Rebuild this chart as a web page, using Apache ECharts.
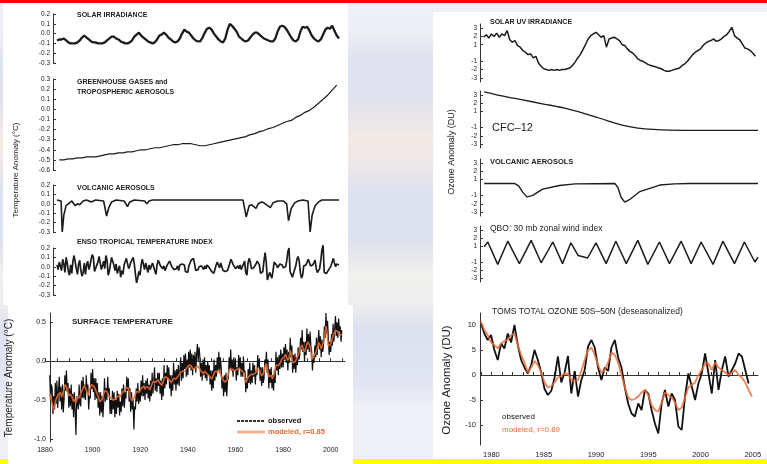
<!DOCTYPE html>
<html><head><meta charset="utf-8">
<script src="https://cdn.jsdelivr.net/npm/echarts@6/dist/echarts.min.js"></script>
<style>html,body{margin:0;padding:0;background:#e2e5f1}#c{width:767px;height:464px}</style>
</head><body><div id="c"></div>
<script>
// ---------- Surface temperature drivers (left column), years 1881-2005 ----------
const solarStart = 1881; // annual
const solarIrr = [-0.07,-0.06,-0.06,-0.05,-0.07,-0.09,-0.10,-0.10,-0.10,-0.09,
  -0.07,-0.04,-0.02,-0.04,-0.06,-0.08,-0.09,-0.09,-0.10,-0.10,
  -0.10,-0.09,-0.07,-0.05,-0.03,-0.03,-0.05,-0.06,-0.08,-0.09,
  -0.10,-0.10,-0.09,-0.07,-0.03,-0.01,0.01,-0.02,-0.04,-0.06,
  -0.08,-0.09,-0.10,-0.09,-0.06,-0.02,-0.01,0.01,-0.01,-0.04,
  -0.06,-0.08,-0.09,-0.08,-0.05,0.00,0.04,0.02,0.01,-0.02,
  -0.05,-0.07,-0.08,-0.08,-0.04,0.01,0.05,0.06,0.04,0.00,
  -0.03,-0.06,-0.08,-0.09,-0.05,0.04,0.10,0.08,0.05,0.02,
  -0.03,-0.05,-0.07,-0.08,-0.07,-0.04,-0.01,0.01,0.01,-0.01,
  -0.03,-0.05,-0.06,-0.07,-0.08,-0.08,-0.05,0.02,0.07,0.08,
  0.07,0.04,0.00,-0.04,-0.07,-0.08,-0.06,0.02,0.07,0.06,
  0.07,0.03,-0.02,-0.05,-0.07,-0.08,-0.06,-0.01,0.04,0.06,
  0.05,0.08,0.03,-0.02,-0.05];

const ghgStart = 1882; // every 2 years
const ghgAer = [-0.50,-0.50,-0.49,-0.49,-0.48,-0.48,-0.47,-0.47,-0.47,-0.46,
  -0.45,-0.44,-0.44,-0.43,-0.43,-0.42,-0.42,-0.41,-0.40,-0.40,
  -0.39,-0.38,-0.38,-0.37,-0.36,-0.35,-0.35,-0.34,-0.34,-0.34,
  -0.35,-0.36,-0.36,-0.35,-0.34,-0.33,-0.32,-0.31,-0.30,-0.29,
  -0.28,-0.27,-0.25,-0.24,-0.22,-0.21,-0.19,-0.18,-0.16,-0.14,
  -0.12,-0.11,-0.08,-0.06,-0.03,-0.01,0.02,0.06,0.10,0.14,0.19,0.24];

const volcYears = [1881,1882.8,1883.3,1884.0,1885,1886.5,1887.5,1889,1890,1891,1892.5,1894,1896,1897,1898,
  1901.5,1902.8,1903.8,1905,1907,1910.5,1912,1913,1915,1919.5,1920.5,1921.5,1923,
  1962.8,1964.2,1965.5,1966.5,1968.5,1969.5,1971,1972,1974.8,1976,1978,1980.5,1982,1982.8,1984,
  1985.5,1987,1989,1991.4,1992.3,1993.2,1994.5,1996,1997.5,2005];
const volcTemp = [0.04,0.03,-0.30,-0.12,-0.02,0.01,0.03,-0.02,0.00,-0.01,0.03,0.04,0.02,0.03,0.04,
  0.03,-0.13,-0.04,0.02,0.04,0.03,-0.03,0.02,0.04,0.03,0.00,0.03,0.04,
  0.04,-0.14,-0.02,-0.01,-0.05,0.00,0.02,0.01,-0.04,0.01,0.03,0.03,0.00,-0.18,-0.05,
  0.01,0.03,0.04,0.03,-0.30,-0.12,-0.02,0.02,0.04,0.04];

const ensoStart = 1881; // half-yearly
const ensoIndex = [0.02,-0.03, 0.05,0.01, -0.04,0.08, 0.03,-0.06, 0.10,0.04,
  -0.05,-0.09, 0.02,-0.07, 0.06,0.12, 0.14,-0.02, -0.08,0.03,
  0.07,-0.04, -0.10,-0.06, 0.04,-0.08, 0.02,0.06, -0.03,0.01,
  0.08,0.13, 0.10,-0.05, -0.07,0.02, 0.05,0.11, 0.09,-0.03,
  0.01,0.06, -0.02,0.12, 0.07,-0.09, -0.05,0.03, 0.10,0.08,
  0.02,-0.04, 0.03,-0.07, -0.06,0.01, -0.11,-0.04, -0.08,0.02,
  0.04,0.09, 0.11,-0.02, 0.01,0.05, 0.06,0.10, 0.03,-0.08,
  -0.17,-0.12, -0.05,-0.09, 0.02,0.08, 0.07,-0.03, 0.04,-0.01,
  -0.06,0.02, -0.03,0.01, 0.04,0.06, -0.04,-0.08, 0.02,0.07,
  0.09,0.01, 0.03,-0.02, 0.01,-0.04, -0.02,0.02, 0.03,0.06,
  0.08,0.00, 0.02,-0.03, -0.05,-0.02, 0.01,-0.04, 0.02,0.00,
  0.03,0.01, 0.02,-0.05, -0.03,-0.06, 0.01,0.04, 0.07,0.05,
  0.09,0.03, -0.04,-0.06, -0.03,0.00, -0.02,0.01, -0.01,-0.03,
  0.01,-0.02, 0.02,0.00, -0.01,-0.03, -0.05,-0.04, -0.07,-0.02,
  0.02,0.05, 0.03,-0.01, 0.04,0.02, -0.04,-0.06, -0.05,-0.07,
  -0.04,-0.02, 0.04,0.08, 0.09,0.02, 0.01,-0.02, -0.01,0.01,
  -0.02,0.02, -0.03,-0.01, 0.03,0.06, -0.06,-0.09, 0.04,0.09,
  0.05,-0.02, -0.03,-0.01, 0.00,0.03, 0.06,0.04, 0.02,-0.07,
  -0.09,-0.05, 0.06,0.15, 0.05,-0.14, -0.10,-0.06, -0.08,-0.12,
  -0.04,0.05, 0.06,0.02, -0.01,-0.03, 0.03,0.05, 0.02,-0.01,
  -0.03,0.00, 0.06,0.16, 0.20,-0.05, -0.06,-0.11, -0.07,-0.03,
  0.01,0.08, 0.11,0.06, -0.06,-0.12, -0.09,0.01, 0.03,0.02,
  0.04,0.08, 0.10,0.01, 0.03,0.02, 0.04,0.07, -0.02,-0.06,
  -0.05,-0.02, 0.07,0.18, 0.23,-0.06, -0.08,-0.07, -0.05,-0.03,
  -0.02,0.01, 0.05,0.09, 0.04,0.00, 0.03,0.05, 0.02];

// ---------- Surface temperature, observed (every 4 months) and modeled (half-yearly) ----------
const sfcStart = 1882;
const sfcObserved = [
  -0.18,-0.52,-0.30, -0.35,-0.68,-0.45, -0.62,-0.28,-0.55, -0.25,-0.60,-0.38, -0.20,-0.52,-0.33,
  -0.62,-0.30,-0.66, -0.50,-0.18,-0.38, -0.12,-0.40,-0.28, -0.60,-0.35,-0.58, -0.30,-0.62,-0.42,
  -0.72,-0.40,-0.65, -0.95,-0.45,-0.55, -0.62,-0.30,-0.55, -0.58,-0.25,-0.47, -0.20,-0.48,-0.30,
  -0.50,-0.18,-0.40, -0.30,-0.62,-0.45, -0.48,-0.15,-0.36, -0.10,-0.40,-0.22, -0.50,-0.22,-0.48,
  -0.28,-0.60,-0.40, -0.70,-0.40,-0.66, -0.45,-0.72,-0.52, -0.22,-0.52,-0.35, -0.50,-0.20,-0.42,
  -0.35,-0.68,-0.50, -0.68,-0.38,-0.62, -0.40,-0.72,-0.50, -0.68,-0.38,-0.60, -0.42,-0.70,-0.52,
  -0.65,-0.35,-0.58, -0.30,-0.60,-0.40, -0.48,-0.20,-0.38, -0.22,-0.52,-0.35, -0.65,-0.40,-0.62,
  -0.50,-0.88,-0.58, -0.62,-0.35,-0.52, -0.28,-0.55,-0.38, -0.52,-0.25,-0.45, -0.18,-0.45,-0.28,
  -0.50,-0.25,-0.42, -0.22,-0.48,-0.30, -0.52,-0.25,-0.45, -0.15,-0.42,-0.25, -0.08,-0.38,-0.22,
  -0.40,-0.15,-0.32, -0.15,-0.42,-0.25, -0.50,-0.22,-0.45, -0.05,-0.35,-0.15, -0.30,-0.05,-0.22,
  -0.08,-0.35,-0.18, -0.45,-0.18,-0.38, -0.02,-0.30,-0.12, -0.38,-0.10,-0.30, -0.05,-0.32,-0.12,
  0.05,-0.25,-0.02, -0.22,0.08,-0.10, 0.10,-0.20,0.02, -0.18,0.12,-0.08, 0.15,-0.12,0.10,
  -0.18,0.08,-0.10, 0.12,-0.15,0.08, 0.22,0.00,0.18, 0.08,-0.20,-0.02, -0.25,0.02,-0.18,
  0.05,-0.22,-0.05, -0.25,0.00,-0.18, -0.05,-0.30,-0.12, -0.38,-0.12,-0.35, 0.02,-0.25,-0.05,
  -0.20,0.05,-0.12, 0.12,-0.15,0.05, -0.08,-0.35,-0.20, -0.45,-0.18,-0.40, -0.15,-0.45,-0.25,
  -0.22,0.05,-0.10, 0.15,-0.12,0.02, -0.20,0.05,-0.12, 0.02,-0.25,-0.08, -0.18,0.08,-0.10,
  0.05,-0.20,-0.02, -0.20,0.06,-0.15, -0.12,-0.40,-0.22, -0.35,-0.10,-0.28, -0.02,-0.30,-0.12,
  -0.28,-0.02,-0.20, -0.05,-0.30,-0.12, -0.18,0.08,-0.08, 0.02,-0.25,-0.08, -0.32,-0.08,-0.28,
  -0.22,0.02,-0.05, 0.12,-0.15,0.02, -0.35,-0.10,-0.28, -0.08,-0.35,-0.18, -0.38,-0.12,-0.28,
  0.12,-0.12,0.05, -0.18,0.08,-0.10, 0.15,-0.08,0.10, -0.08,0.18,0.02, 0.22,-0.02,0.15,
  -0.12,0.12,-0.02, 0.30,0.05,0.20, -0.15,0.08,-0.10, 0.10,-0.15,0.05, -0.05,0.18,0.02,
  0.08,0.30,0.15, 0.40,0.12,0.25, 0.00,0.25,0.08, 0.42,0.15,0.35, 0.12,0.38,0.20,
  0.12,-0.12,0.05, -0.02,0.20,0.05, 0.30,0.08,0.25, 0.40,0.15,0.32, 0.05,0.28,0.12,
  0.22,0.45,0.30, 0.62,0.35,0.52, 0.32,0.08,0.25, 0.12,0.35,0.20, 0.48,0.25,0.42,
  0.58,0.32,0.50, 0.30,0.55,0.38, 0.45,0.25,0.40];
const sfcModeled = [
  -0.42,-0.48, -0.55,-0.62, -0.58,-0.50, -0.47,-0.43, -0.45,-0.40, -0.46,-0.41, -0.36,-0.30,
  -0.33,-0.38, -0.45,-0.42, -0.44,-0.47, -0.52,-0.49, -0.53,-0.46, -0.44,-0.47, -0.42,-0.38,
  -0.35,-0.31, -0.33,-0.38, -0.43,-0.40, -0.34,-0.30, -0.29,-0.32, -0.35,-0.39, -0.41,-0.47,
  -0.52,-0.50, -0.49,-0.44, -0.38,-0.36, -0.39,-0.41, -0.46,-0.48, -0.47,-0.50, -0.51,-0.49,
  -0.47,-0.45, -0.43,-0.46, -0.44,-0.40, -0.41,-0.38, -0.34,-0.32, -0.35,-0.41, -0.48,-0.51,
  -0.52,-0.47, -0.42,-0.39, -0.37,-0.40, -0.38,-0.35, -0.34,-0.32, -0.36,-0.33, -0.31,-0.34,
  -0.37,-0.33, -0.29,-0.26, -0.24,-0.27, -0.26,-0.24, -0.27,-0.29, -0.31,-0.28, -0.23,-0.20,
  -0.19,-0.22, -0.23,-0.25, -0.28,-0.25, -0.22,-0.20, -0.23,-0.21, -0.19,-0.17, -0.14,-0.12,
  -0.13,-0.11, -0.12,-0.09, -0.07,-0.05, -0.04,-0.06, -0.10,-0.12, -0.09,-0.07, -0.06,-0.08,
  -0.10,-0.13, -0.14,-0.16, -0.13,-0.15, -0.16,-0.17, -0.19,-0.21, -0.23,-0.21, -0.16,-0.13,
  -0.12,-0.14, -0.11,-0.13, -0.19,-0.23, -0.25,-0.27, -0.26,-0.24, -0.16,-0.10, -0.08,-0.10,
  -0.11,-0.12, -0.12,-0.11, -0.10,-0.09, -0.10,-0.12, -0.12,-0.15, -0.24,-0.27, -0.23,-0.20,
  -0.18,-0.17, -0.16,-0.17, -0.18,-0.15, -0.10,-0.09, -0.11,-0.15, -0.19,-0.18, -0.14,-0.06,
  -0.03,-0.12, -0.20,-0.19, -0.18,-0.23, -0.22,-0.15, -0.05,-0.03, -0.06,-0.05, -0.01,0.03,
  0.04,0.05, 0.09,0.07, 0.01,0.04, 0.14,0.08, -0.02,-0.03, -0.01,0.01, 0.05,0.07,
  0.14,0.18, 0.21,0.15, 0.12,0.13, 0.22,0.25, 0.24,0.17, 0.02,0.00, 0.07,0.06,
  0.13,0.19, 0.24,0.21, 0.16,0.17, 0.25,0.33, 0.45,0.36, 0.19,0.21, 0.22,0.24,
  0.33,0.34, 0.40,0.39, 0.38,0.40, 0.33,0.35];
const sfcYTicks = [-1.0, -0.5, 0.0, 0.5];
const sfcXLabels = [1880, 1900, 1920, 1940, 1960, 1980, 2000];
const sfcXTicks = [1880,1885,1890,1895,1900,1905,1910,1915,1920,1925,1930,1935,1940,1945,1950,1955,1960,1965,1970,1975,1980,1985,1990,1995,2000,2005];
const driverTicks = [-0.3, -0.2, -0.1, 0.0, 0.1, 0.2];
const ghgTicks = [-0.6, -0.5, -0.4, -0.3, -0.2, -0.1, 0.0, 0.1, 0.2, 0.3];

// ---------- Ozone drivers (right column), 1979-2005 ----------
const uvStart = 1979.25; // quarterly
const uvIrr = [1.9,2.2,1.8,2.3,2.0,2.4,1.9,2.3,2.1,2.7,1.6,1.3,1.5,0.9,0.7,0.3,0.1,-0.2,-0.1,-0.6,
  -0.4,-1.2,-1.6,-1.9,-2.0,-2.1,-2.0,-2.1,-2.0,-2.1,-2.0,-2.0,-1.9,-1.8,-1.5,-1.1,-0.6,-0.2,0.4,1.0,
  1.7,2.1,2.3,2.5,2.2,1.9,2.1,0.7,1.7,1.8,1.9,1.7,1.5,1.0,0.9,0.5,0.2,0.0,-0.3,-0.7,
  -0.9,-1.0,-1.2,-1.4,-1.5,-1.6,-1.7,-1.8,-1.9,-2.1,-2.2,-2.2,-2.1,-2.0,-1.9,-1.8,-1.5,-1.3,-1.0,-0.6,
  -0.2,0.1,0.3,0.5,0.9,1.2,1.4,1.5,1.7,1.4,1.5,1.7,2.0,2.2,2.6,3.1,2.1,1.8,1.6,1.1,
  0.6,0.5,0.3,0.0,-0.4];
const cfcYears = [1979.3,1981,1983,1985,1987,1989,1991,1992.5,1994,1995.5,1997,2000,2005.5];
const cfc12 = [3.4,2.9,2.4,1.9,1.4,0.7,-0.1,-0.7,-1.05,-1.22,-1.3,-1.33,-1.33];
const volcRYears = [1979.3,1982.2,1982.6,1983.0,1983.4,1983.9,1984.9,1986.5,1988,1991.8,1992.1,1992.4,1992.75,1993.2,1994.2,1996.1,1997.5,1999,2005.5];
const volcOzone = [0.5,0.5,0.2,-0.6,-1.15,-1.0,-0.2,0.25,0.45,0.5,0.0,-1.2,-1.8,-1.5,-0.5,0.3,0.45,0.5,0.5];
const qboYears = [1979.3,1979.65,1980.6,1981.56,1982.67,1983.8,1984.75,1985.87,1986.8,1987.6,1988.3,1989.2,1990.0,1990.97,
  1991.9,1992.9,1994.0,1994.96,1996.07,1997.03,1998.15,1999.1,2000.06,2001.2,2002.14,2003.25,2004.2,2005.2,2005.5];
const qboIndex = [0.9,1.5,-1.3,1.6,-1.2,1.7,-1.1,1.5,-1.2,1.4,-0.2,-0.5,1.4,-1.2,
  1.6,-1.2,1.7,-1.3,1.5,-1.2,1.6,-1.2,1.5,-1.3,1.6,-1.2,1.5,-1.0,-0.4];
const duTicks = [-3, -2, -1, 1, 2, 3];

// ---------- TOMS total ozone 50S-50N, deseasonalized ----------
const ozStart = 1979.0, ozStep = 0.32;
const ozObserved = [10.3,8.3,7.0,8.0,5.0,3.0,6.3,5.3,8.3,6.5,10.0,6.0,3.0,1.5,0.3,2.0,5.0,3.0,0.5,-2.8,
  -4.0,-3.2,-0.5,3.7,-1.5,0.5,3.8,-3.7,0.8,-4.3,-1.0,1.0,5.7,7.0,5.5,1.5,-1.0,1.5,0.8,5.5,
  7.0,3.5,1.5,-2.5,-5.7,-7.7,-8.3,-5.7,-7.0,-3.0,-3.7,-7.0,-9.7,-11.7,-5.7,-3.0,-6.3,-3.7,-5.0,-10.3,
  -11.0,-4.3,0.3,-2.3,-5.0,-1.7,0.3,4.3,0.3,-3.7,3.0,-3.0,1.0,3.7,-0.3,1.0,2.3,4.3,3.7,1.0,-1.7];
const ozModeled = [10.7,9.0,8.0,6.5,6.0,5.3,6.3,6.8,7.0,8.0,8.3,6.0,4.0,2.5,0.5,1.5,2.8,2.0,0.5,-1.5,
  -2.5,-2.2,-1.5,-0.5,-0.2,0.3,0.2,-1.0,-1.2,-1.0,0.8,3.0,5.0,5.5,4.0,2.0,0.5,1.0,2.5,4.5,
  4.0,2.5,0.0,-2.5,-4.5,-5.0,-4.8,-4.3,-3.5,-3.0,-4.0,-6.0,-7.0,-7.3,-5.5,-3.5,-4.0,-4.5,-5.5,-7.0,
  -6.5,-4.5,-2.5,-2.0,-1.5,0.0,1.0,2.3,2.3,1.0,2.5,1.5,1.0,0.5,0.0,0.5,1.0,0.0,-0.5,-1.5,-3.0,-4.3];
const ozYTicks = [-10, -5, 0, 5, 10];
const ozXLabels = [1980, 1985, 1990, 1995, 2000, 2005];
const ozXTicks = [1979,1980,1981,1982,1983,1984,1985,1986,1987,1988,1989,1990,1991,1992,1993,1994,1995,1996,1997,1998,1999,2000,2001,2002,2003,2004,2005];

// ---------- helpers ----------
const seq = (start, step, vals) => vals.map((v, i) => [start + i * step, v]);
const zip = (xs, ys) => xs.map((x, i) => [x, ys[i]]);
const FONT = '"Liberation Sans", Arial, sans-serif';
const INK = '#1c1c1c';
const AX = { lineStyle: { color: '#333', width: 1 } };

const grids = [
  { left: 57, top: 14, width: 282, height: 49 },   // 0 solar
  { left: 57, top: 79, width: 282, height: 91 },   // 1 ghg
  { left: 57, top: 185, width: 282, height: 47 },  // 2 volcanic
  { left: 57, top: 248, width: 282, height: 47 },  // 3 enso
  { left: 45, top: 313, width: 300, height: 129 }, // 4 surface temperature
  { left: 481, top: 24, width: 277, height: 58 },  // 5 uv
  { left: 481, top: 91, width: 277, height: 57 },  // 6 cfc
  { left: 481, top: 159, width: 277, height: 57 }, // 7 volcanic
  { left: 481, top: 226, width: 277, height: 56 }, // 8 qbo
  { left: 481, top: 313, width: 277, height: 132 } // 9 ozone
];

function hiddenX(i, min, max) {
  return { gridIndex: i, type: 'value', min, max, show: false };
}
function yAx(i, min, max, ticks, fmt, opts) {
  return Object.assign({
    gridIndex: i, type: 'value', min, max,
    splitLine: { show: false },
    axisLine: Object.assign({ show: true }, AX),
    axisTick: { show: true, inside: true, length: 3, customValues: ticks, lineStyle: { color: '#333' } },
    axisLabel: { customValues: ticks, formatter: fmt, fontSize: 6.5, color: '#222', margin: 3, fontFamily: FONT }
  }, opts || {});
}
const f1 = v => v.toFixed(1);
const f0 = v => String(v);

const xAxes = [
  hiddenX(0, 1881, 2005), hiddenX(1, 1881, 2005), hiddenX(2, 1881, 2005), hiddenX(3, 1881, 2005),
  { gridIndex: 4, type: 'value', min: 1880, max: 2006, splitLine: { show: false },
    axisLine: Object.assign({ show: true }, AX),
    axisTick: { inside: true, length: 3, customValues: sfcXTicks, lineStyle: { color: '#333' } },
    axisLabel: { customValues: sfcXLabels, formatter: f0, fontSize: 7, color: '#222', margin: 5, fontFamily: FONT } },
  hiddenX(5, 1979, 2005.5), hiddenX(6, 1979, 2005.5), hiddenX(7, 1979, 2005.5), hiddenX(8, 1979, 2005.5),
  { gridIndex: 9, type: 'value', min: 1979, max: 2005.5, splitLine: { show: false },
    axisLine: Object.assign({ show: true }, AX),
    axisTick: { inside: true, length: 3, customValues: ozXTicks, lineStyle: { color: '#333' } },
    axisLabel: { customValues: ozXLabels, formatter: f0, fontSize: 7.5, color: '#222', margin: 6, fontFamily: FONT } }
];
const yAxes = [
  yAx(0, -0.3, 0.2, driverTicks, f1, { offset: 4 }),
  yAx(1, -0.6, 0.3, ghgTicks, f1, { offset: 4 }),
  yAx(2, -0.3, 0.2, driverTicks, f1, { offset: 4 }),
  yAx(3, -0.3, 0.2, driverTicks, f1, { offset: 4 }),
  yAx(4, -1.04, 0.62, sfcYTicks, f1, { offset: -5, axisLabel: { customValues: sfcYTicks, formatter: f1, fontSize: 7, color: '#222', margin: 4, fontFamily: FONT } }),
  yAx(5, -3.5, 3.5, duTicks, f0, { offset: 1 }),
  yAx(6, -3.5, 3.5, duTicks, f0, { offset: 1 }),
  yAx(7, -3.5, 3.5, duTicks, f0, { offset: 1 }),
  yAx(8, -3.5, 3.5, duTicks, f0, { offset: 1 }),
  yAx(9, -14, 12.4, ozYTicks, f0, { offset: 1, axisLabel: { customValues: ozYTicks, formatter: f0, fontSize: 7.5, color: '#222', margin: 4, fontFamily: FONT } })
];

function line(i, data, color, width, extra) {
  return Object.assign({
    type: 'line', xAxisIndex: i, yAxisIndex: i, data, symbol: 'none', silent: true, clip: false,
    lineStyle: { color, width }
  }, extra || {});
}

const series = [
  line(0, seq(solarStart, 1, solarIrr), INK, 2.3),
  line(1, seq(ghgStart, 2, ghgAer), INK, 1.2),
  line(2, zip(volcYears, volcTemp), INK, 1.6),
  line(3, seq(ensoStart, 0.5, ensoIndex), INK, 1.7),
  line(4, seq(sfcStart, 1 / 3, sfcObserved), '#111', 1.2),
  line(4, seq(sfcStart, 0.5, sfcModeled), '#e8682e', 1.6, { lineStyle: { color: '#e8682e', width: 1.6, opacity: 0.9 } }),
  line(5, seq(uvStart, 0.25, uvIrr), INK, 1.5),
  line(6, zip(cfcYears, cfc12), INK, 1.3, { smooth: 0.3 }),
  line(7, zip(volcRYears, volcOzone), INK, 1.4),
  line(8, zip(qboYears, qboIndex), INK, 1.5),
  line(9, seq(ozStart, ozStep, ozObserved), '#111', 1.8),
  line(9, seq(ozStart, ozStep, ozModeled), '#f06a35', 1.8, { lineStyle: { color: '#f06a35', width: 1.8, opacity: 0.85 } })
];

function txt(x, y, s, size, color, weight) {
  return {
    type: 'text', x, y, z: 20, silent: true,
    style: { text: s, fill: color || '#222', font: (weight || 'normal') + ' ' + (size || 8) + 'px ' + FONT, textVerticalAlign: 'middle' }
  };
}
function vtxt(x, y, s, size) {
  return { type: 'text', x, y, rotation: Math.PI / 2, z: 20, silent: true,
    style: { text: s, fill: '#222', font: size + 'px ' + FONT, textAlign: 'center', textVerticalAlign: 'middle' } };
}
function rect(x, y, w, h, fill) {
  return { type: 'rect', z: -10, silent: true, shape: { x, y, width: w, height: h }, style: { fill } };
}

const backdrop = new echarts.graphic.LinearGradient(0, 0, 0, 1, [
  { offset: 0.00, color: '#eef0f5' }, { offset: 0.07, color: '#edeff5' },
  { offset: 0.13, color: '#dfe2f0' }, { offset: 0.22, color: '#e0e2ef' },
  { offset: 0.29, color: '#f3e9e6' }, { offset: 0.34, color: '#f1e9e7' },
  { offset: 0.41, color: '#dde1f0' }, { offset: 0.52, color: '#dee1ef' },
  { offset: 0.59, color: '#f1f0ec' }, { offset: 0.65, color: '#eeeeef' },
  { offset: 0.71, color: '#dde0ef' }, { offset: 0.82, color: '#e1e4f1' },
  { offset: 0.88, color: '#eef0f6' }, { offset: 1.00, color: '#eef0f6' }
]);

const graphics = [
  { type: 'rect', z: -20, silent: true, shape: { x: 0, y: 0, width: 767, height: 464 }, style: { fill: backdrop } },
  rect(0, 0, 767, 3, '#ff0000'),
  rect(0, 459, 767, 5, '#ffff00'),
  rect(3, 3, 345, 302, '#ffffff'),
  rect(8, 305, 345, 159, '#ffffff'),
  rect(433, 12, 334, 447, '#ffffff'),
  // left column labels
  txt(77, 15, 'SOLAR IRRADIANCE', 7, '#222', 'bold'),
  txt(77, 82, 'GREENHOUSE GASES and', 7, '#222', 'bold'),
  txt(77, 92, 'TROPOSPHERIC AEROSOLS', 7, '#222', 'bold'),
  txt(77, 188, 'VOLCANIC AEROSOLS', 7, '#222', 'bold'),
  txt(77, 242, 'ENSO TROPICAL TEMPERATURE INDEX', 7, '#222', 'bold'),
  vtxt(16, 170, 'Temperature Anomaly (°C)', 8),
  txt(72, 322, 'SURFACE TEMPERATURE', 8, '#222', 'bold'),
  vtxt(9, 378, 'Temperature Anomaly (°C)', 10),
  { type: 'line', z: 20, silent: true, shape: { x1: 237, y1: 421, x2: 265, y2: 421 }, style: { stroke: '#333', lineWidth: 2, lineDash: [3, 1] } },
  { type: 'line', z: 20, silent: true, shape: { x1: 237, y1: 432, x2: 265, y2: 432 }, style: { stroke: '#f7b090', lineWidth: 3 } },
  txt(268, 421, 'observed', 7.5, '#111', 'bold'),
  txt(268, 432, 'modeled, r=0.85', 7.5, '#e8682e', 'bold'),
  // right column labels
  txt(490, 22, 'SOLAR UV IRRADIANCE', 7, '#222', 'bold'),
  txt(492, 128, 'CFC\u201312', 11),
  txt(490, 162, 'VOLCANIC AEROSOLS', 7.5, '#222', 'bold'),
  txt(490, 229, 'QBO: 30 mb zonal wind index', 8.5),
  vtxt(452, 152, 'Ozone Anomaly (DU)', 9),
  txt(492, 312, 'TOMS TOTAL OZONE 50S\u201350N (deseasonalized)', 8.5),
  vtxt(447, 380, 'Ozone Anomaly (DU)', 11.5),
  txt(502, 417, 'observed', 8, '#111'),
  txt(502, 430, 'modeled, r=0.89', 8, '#f06a35')
];

const chart = echarts.init(document.getElementById('c'), null, { renderer: 'canvas', width: 767, height: 464 });
chart.setOption({
  animation: false,
  backgroundColor: '#e2e5f1',
  grid: grids,
  xAxis: xAxes,
  yAxis: yAxes,
  series,
  graphic: { elements: graphics }
});
</script></body></html>
